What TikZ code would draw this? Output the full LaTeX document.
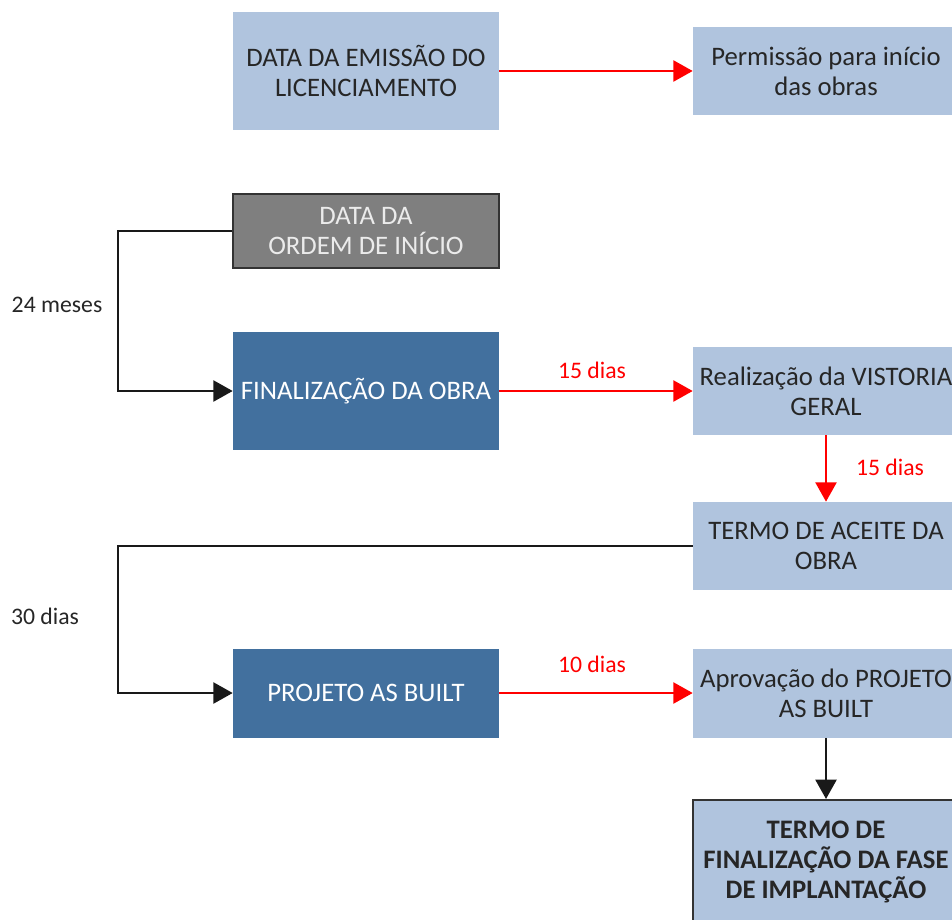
\documentclass[tikz,border=0pt]{standalone}
\usepackage{fontspec}
\setmainfont{Carlito}
\usetikzlibrary{arrows.meta}
\definecolor{lightbox}{RGB}{176,196,222}
\definecolor{darkbox}{RGB}{66,112,158}
\definecolor{greybox}{RGB}{127,127,127}
\definecolor{rededge}{RGB}{255,0,0}
\tikzset{
lightstep/.style={
  align=center,
  fill=lightbox,
  text=black!85,
  font=\fontsize{15.2}{17}\selectfont,
  minimum width=5.32cm,
  inner sep=0pt
  }
}
\tikzset{
darkstep/.style={
  align=center,
  fill=darkbox,
  text=white,
  font=\fontsize{15.2}{17}\selectfont,
  minimum width=5.32cm,
  inner sep=0pt
  }
}
\tikzset{
greystep/.style={
  align=center,
  fill=greybox,
  draw=black!80,
  line width=1.2pt,
  text=white!92!black,
  font=\fontsize{15.2}{17}\selectfont,
  minimum width=5.32cm,
  inner sep=0pt
  }
}
\tikzset{
finalstep/.style={
  lightstep,
  draw=black!80,
  line width=1.2pt,
  font=\fontsize{15.2}{17}\selectfont\bfseries
  }
}
\tikzstyle{redflow} = [draw,color=rededge,line width=1.2pt,-{Triangle[width=12pt,length=11pt]}]
\tikzstyle{blackflow} = [draw,color=black!90,line width=1.2pt,-{Triangle[width=12pt,length=11pt]}]
\tikzset{
redlabel/.style={text=rededge},
timelabel/.style={text=black!85}
}

\begin{document}
\begin{tikzpicture}[x=0.02cm, y=-0.02cm, font=\fontsize{13.5}{17}\selectfont]
	\useasboundingbox (0,0) rectangle (952,919);
	%vertices
	\node (emissao) at (366, 71) [lightstep, minimum height=2.36cm] {DATA DA EMISSÃO DO\\LICENCIAMENTO};
	\node (permissao) at (826, 71) [lightstep, minimum height=1.76cm] {Permissão para início\\das obras};

	\node (ordem) at (366, 231) [greystep, minimum height=1.48cm] {DATA DA\\ORDEM DE INÍCIO};
	\node (finalizacao) at (366, 391) [darkstep, minimum height=2.36cm] {FINALIZAÇÃO DA OBRA};
	\node (vistoria) at (826, 391) [lightstep, minimum height=1.76cm] {Realização da VISTORIA\\GERAL};
	\node (aceite) at (826, 546) [lightstep, minimum height=1.76cm] {TERMO DE ACEITE DA\\OBRA};

	\node (asbuilt) at (366, 693) [darkstep, minimum height=1.78cm] {PROJETO AS BUILT};
	\node (aprovacao) at (826, 693) [lightstep, minimum height=1.78cm] {Aprovação do PROJETO\\AS BUILT};
	\node (termo) at (826, 862) [finalstep, minimum height=2.48cm] {TERMO DE\\FINALIZAÇÃO DA FASE\\DE IMPLANTAÇÃO};

	%labels
	\node (prazo24) at (57, 305) [timelabel] {24 meses};
	\node (prazo30) at (45, 616) [timelabel] {30 dias};
	\node (dias15a) at (592, 370) [redlabel] {15 dias};
	\node (dias15b) at (890, 467) [redlabel] {15 dias};
	\node (dias10) at (592, 664) [redlabel] {10 dias};

	\coordinate (bendA) at (118, 231);
	\coordinate (bendB) at (118, 546);

	%edges
	\draw (emissao) edge[redflow] (permissao);
	\draw (finalizacao) edge[redflow] (vistoria);
	\draw (vistoria) edge[redflow] (aceite);
	\draw (asbuilt) edge[redflow] (aprovacao);
	\draw (aprovacao) edge[blackflow] (termo);

	\draw[blackflow] (ordem.west) -- (bendA) |- (finalizacao.west);
	\draw[blackflow] (aceite.west) -- (bendB) |- (asbuilt.west);
\end{tikzpicture}
\end{document}
